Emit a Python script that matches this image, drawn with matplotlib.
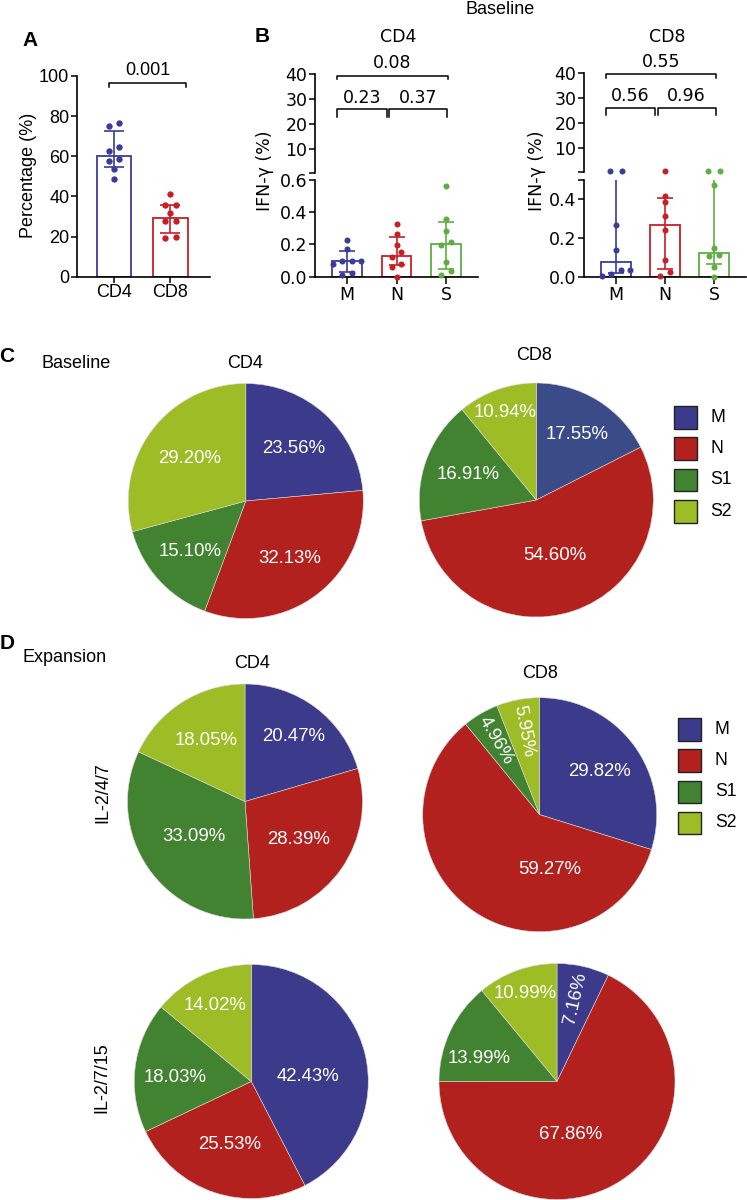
import numpy as np
import matplotlib
matplotlib.use("Agg")
import matplotlib.pyplot as plt
from matplotlib.patches import Rectangle

plt.rcParams["font.family"] = ["Liberation Sans", "DejaVu Sans"]
plt.rcParams["font.size"] = 13

# ── data ─────────────────────────────────────────────────────────────────────

# A: CD4 / CD8 percentage
a_cats = ["CD4", "CD8"]
a_bar = [60.0, 29.2]
a_err_lo = [54.5, 21.6]
a_err_hi = [72.4, 35.9]
a_pts_cd4 = [48.5, 53.5, 57.6, 58.8, 62.6, 64.6, 75.2, 76.6]
a_pts_cd8 = [19.4, 19.7, 27.8, 27.8, 31.6, 35.7, 35.7, 41.4]
a_p = "0.001"

# B: IFN-g, baseline (M, N, S)
b_cats = ["M", "N", "S"]
b4_bar = [0.095, 0.13, 0.20]
b4_err_lo = [0.031, 0.071, 0.048]
b4_err_hi = [0.157, 0.247, 0.338]
b4_pts_m = [0.23, 0.17, 0.10, 0.10, 0.10, 0.08, 0.02, 0.01]
b4_pts_n = [0.327, 0.265, 0.195, 0.153, 0.122, 0.081, 0.062, 0.0]
b4_pts_s = [0.56, 0.357, 0.286, 0.215, 0.195, 0.093, 0.035, 0.01]
b4_p = ["0.23", "0.37", "0.08"]

b8_bar = [0.078, 0.267, 0.125]
b8_err_lo = [0.018, 0.04, 0.066]
b8_err_hi = [0.9, 0.405, 0.9]
b8_pts_m = [0.269, 0.137, 0.035, 0.035, 0.012, 0.002]
b8_pts_n = [0.419, 0.384, 0.312, 0.239, 0.087, 0.026, 0.004]
b8_pts_s = [0.476, 0.147, 0.113, 0.108, 0.052, 0.0]
b8_high_m = [0.75, 0.75]   # points above the axis break
b8_high_n = [0.75]
b8_high_s = [0.75, 0.75]
b8_p = ["0.56", "0.96", "0.55"]

# C / D: subset composition (M, N, S1, S2), %
pie_labels = ["M", "N", "S1", "S2"]
c_cd4 = [23.56, 32.13, 15.10, 29.20]
c_cd8 = [17.55, 54.60, 16.91, 10.94]
d_247_cd4 = [20.47, 28.39, 33.09, 18.05]
d_247_cd8 = [29.82, 59.27, 4.96, 5.95]
d_2715_cd4 = [42.43, 25.53, 18.03, 14.02]
d_2715_cd8 = [7.16, 67.86, 13.99, 10.99]

# ── style ────────────────────────────────────────────────────────────────────

W, H = 747, 1200
BLUE, RED, GREEN = "#3b3b9b", "#c62026", "#5fae43"
PIE_COLORS = ["#3b3a8b", "#b2211d", "#418330", "#9dbc25"]
B_FONT = dict(family=["DejaVu Sans"], size=12.5)   # panel B text is a bit wider

fig = plt.figure(figsize=(W / 100, H / 100), dpi=100)


def add_ax(left, top, right, bottom):
    # axes placed by pixel box
    return fig.add_axes([left / W, 1 - bottom / H, (right - left) / W, (bottom - top) / H])


def ftext(x, y, s, **kw):
    kw.setdefault("ha", "center")
    kw.setdefault("va", "center")
    fig.text(x / W, 1 - y / H, s, **kw)


def row_offsets(vals, px_per_unit, thresh, gap):
    # put points of similar height into a centred row
    vals = np.asarray(vals, dtype=float)
    order = np.argsort(vals)
    offs = np.zeros(len(vals))
    groups, cur = [], [order[0]]
    for a, b in zip(order[:-1], order[1:]):
        if (vals[b] - vals[a]) * px_per_unit < thresh:
            cur.append(b)
        else:
            groups.append(cur)
            cur = [b]
    groups.append(cur)
    for g in groups:
        n = len(g)
        for i, idx in enumerate(g):
            offs[idx] = (i - (n - 1) / 2) * gap
    return offs


def px_scale(ax):
    pos = ax.get_position()
    lo, hi = ax.get_ylim()
    x0, x1 = ax.get_xlim()
    return pos.height * H / (hi - lo), pos.width * W / (x1 - x0)


def style_axis(ax, bottom=True, font=None):
    for s in ["top", "right"]:
        ax.spines[s].set_visible(False)
    ax.spines["left"].set_linewidth(1.2)
    ax.spines["bottom"].set_linewidth(1.2)
    if not bottom:
        ax.spines["bottom"].set_visible(False)
        ax.set_xticks([])
    ax.tick_params(direction="out", length=4, width=1.1, labelsize=13, pad=1.5)


def set_font(ax, font):
    for lab in ax.get_xticklabels() + ax.get_yticklabels():
        lab.set_family(font["family"])
        lab.set_size(font["size"])


def dots(ax, x, vals, color, size, gap_px):
    ypx, xpx = px_scale(ax)
    offs = row_offsets(vals, ypx, 5.5, gap_px) / xpx
    ax.scatter(x + offs, vals, s=size, color=color, zorder=4, clip_on=False, linewidths=0)


def bracket(ax, x1, x2, y, drop, label, ty, **kw):
    ax.plot([x1, x1, x2, x2], [y - drop, y, y, y - drop], color="black", lw=1.1, clip_on=False)
    kw.setdefault("fontsize", 13)
    ax.text((x1 + x2) / 2, ty, label, ha="center", va="center", clip_on=False, **kw)


# ── A ────────────────────────────────────────────────────────────────────────

axA = add_ax(77, 76, 210, 276.7)
axA.set_xlim(-0.657, 1.705)
axA.set_ylim(0, 100)
style_axis(axA)
xa = np.arange(len(a_cats))
colsA = [BLUE, RED]
axA.bar(xa, a_bar, width=0.615, facecolor="white", edgecolor=colsA, linewidth=1.3, zorder=2)
for i in range(2):
    axA.errorbar(xa[i], a_bar[i], yerr=[[a_bar[i] - a_err_lo[i]], [a_err_hi[i] - a_bar[i]]],
                 color=colsA[i], capsize=7, elinewidth=1.2, capthick=1.2, zorder=3)
dots(axA, 0, a_pts_cd4, BLUE, 21, 10.7)
dots(axA, 1, a_pts_cd8, RED, 21, 10.7)
axA.set_xticks(xa)
axA.set_xticklabels(a_cats)
axA.set_yticks(range(0, 101, 20))
bracket(axA, -0.08, 1.27, 96.4, 1.7, a_p, 102.8)
ftext(29, 175, "Percentage (%)", rotation=90, fontsize=13)
ftext(30, 40, "A", fontsize=15, fontweight="bold")

# ── B ────────────────────────────────────────────────────────────────────────


def panel_b(left, right, top_up, bot_up, top_lo, lo_max, bars, lo, hi, pts, high_pts,
            pvals, lo_ticks, lo_labels, title, ylab_x):
    cols = [BLUE, RED, GREEN]
    xb = np.arange(len(b_cats))
    xl = (-0.65, 2.65)
    up = add_ax(left, top_up, right, bot_up)
    low = add_ax(left, top_lo, right, 276.7)
    up.set_xlim(*xl)
    low.set_xlim(*xl)
    up.set_ylim(lo_max, 40)
    low.set_ylim(0, lo_max)
    style_axis(up, bottom=False)
    style_axis(low)
    up.set_yticks([lo_max, 10, 20, 30, 40])
    up.set_yticklabels(["", "10", "20", "30", "40"])
    low.set_yticks(lo_ticks)
    low.set_yticklabels(lo_labels)
    low.set_xticks(xb)
    low.set_xticklabels(b_cats)
    low.tick_params(axis="x", length=5)
    set_font(up, B_FONT)
    set_font(low, B_FONT)
    low.bar(xb, bars, width=0.6, facecolor="white", edgecolor=cols, linewidth=1.3, zorder=2)
    for i in range(3):
        low.errorbar(xb[i], bars[i], yerr=[[bars[i] - lo[i]], [hi[i] - bars[i]]],
                     color=cols[i], capsize=5.5, elinewidth=1.2, capthick=1.2, zorder=3)
        dots(low, xb[i], pts[i], cols[i], 19, 9.5)
        if high_pts[i]:
            dots(up, xb[i], high_pts[i], cols[i], 19, 11.5)
    fkw = dict(fontsize=B_FONT["size"], family=B_FONT["family"])
    bracket(up, -0.2, 0.8, 26.1, 3.1, pvals[0], 30.6, **fkw)
    bracket(up, 0.85, 2.03, 26.1, 3.1, pvals[1], 30.6, **fkw)
    bracket(up, -0.2, 2.04, 39.4, 1.4, pvals[2], 44.4, **fkw)
    ftext((left + right) / 2 + 2, 37, title, **fkw)
    ftext(ylab_x, 171, "IFN-γ (%)", rotation=90, **fkw)


panel_b(315, 478, 74, 172.7, 180, 0.6, b4_bar, b4_err_lo, b4_err_hi,
        [b4_pts_m, b4_pts_n, b4_pts_s], [None, None, None], b4_p,
        [0, 0.2, 0.4, 0.6], ["0.0", "0.2", "0.4", "0.6"], "CD4", 265)
panel_b(584, 746, 73, 171.7, 180, 0.5, b8_bar, b8_err_lo, b8_err_hi,
        [b8_pts_m, b8_pts_n, b8_pts_s], [b8_high_m, b8_high_n, b8_high_s], b8_p,
        [0, 0.2, 0.4, 0.5], ["0.0", "0.2", "0.4", ""], "CD8", 537)
ftext(262, 37, "B", fontsize=15, fontweight="bold")
ftext(500, 9, "Baseline", fontsize=13)

# ── C / D pies ───────────────────────────────────────────────────────────────


def pie(cx, cy, r, vals, rfrac, shift=None, rotate=None, colors=PIE_COLORS):
    ax = add_ax(cx - r, cy - r, cx + r, cy + r)
    wedges, _ = ax.pie(vals, colors=colors, startangle=90, counterclock=False, radius=1,
                       wedgeprops=dict(linewidth=0.4, edgecolor="#d8d8d8"))
    ax.set_xlim(-1, 1)
    ax.set_ylim(-1, 1)
    shift = shift or [0] * len(vals)
    rotate = rotate or [False] * len(vals)
    for w, v, rf, sh, rot in zip(wedges, vals, rfrac, shift, rotate):
        ang = (w.theta1 + w.theta2) / 2 + sh
        x, y = rf * np.cos(np.radians(ang)), rf * np.sin(np.radians(ang))
        angle = 0
        if rot:
            angle = ang if x >= 0 else ang - 180
        ax.text(x, y, f"{v:.2f}%", color="white", fontsize=13.4, ha="center", va="center",
                rotation=angle, rotation_mode="anchor")
    return ax


c8_colors = ["#3b4b87"] + PIE_COLORS[1:]
pie(245.8, 501, 117.5, c_cd4, [0.6, 0.62, 0.64, 0.6])
pie(536.3, 500, 117, c_cd8, [0.66, 0.5, 0.62, 0.79], colors=c8_colors)
pie(245, 801.5, 117.5, d_247_cd4, [0.69, 0.56, 0.53, 0.62])
pie(539.7, 814.7, 117, d_247_cd8, [0.63, 0.475, 0.735, 0.73],
    shift=[0, 44.8, 0, 0], rotate=[False, False, True, True])
pie(251.3, 1081.5, 117, d_2715_cd4, [0.49, 0.57, 0.65, 0.72], shift=[-8.8, 0, 4, 0])
pie(557, 1081.5, 118, d_2715_cd8, [0.72, 0.46, 0.69, 0.79],
    shift=[0, -17.5, 8.6, 0], rotate=[True, False, False, False])


def legend(left, top, step, text_x, size=22.7):
    for i, (lab, col) in enumerate(zip(pie_labels, PIE_COLORS)):
        t = top + i * step
        fig.add_artist(Rectangle((left / W, 1 - (t + size) / H), size / W, size / H,
                                 facecolor=col, edgecolor="#222222", lw=1.0,
                                 transform=fig.transFigure))
        ftext(text_x, t + size / 2, lab, ha="left", fontsize=12.7)


legend(674, 406, 31.3, 710)
legend(678.3, 718.3, 31.1, 715)

ftext(7, 357, "C", fontsize=15, fontweight="bold")
ftext(76, 363, "Baseline", fontsize=13)
ftext(245, 363, "CD4", fontsize=13)
ftext(534, 356, "CD8", fontsize=13)

ftext(7, 643, "D", fontsize=15, fontweight="bold")
ftext(65, 658, "Expansion", fontsize=13)
ftext(252, 663, "CD4", fontsize=13)
ftext(540, 673, "CD8", fontsize=13)
ftext(103, 793, "IL-2/4/7", rotation=90, fontsize=13)
ftext(102, 1078, "IL-2/7/15", rotation=90, fontsize=13)

plt.savefig("out.png", dpi=100)
plt.close()
